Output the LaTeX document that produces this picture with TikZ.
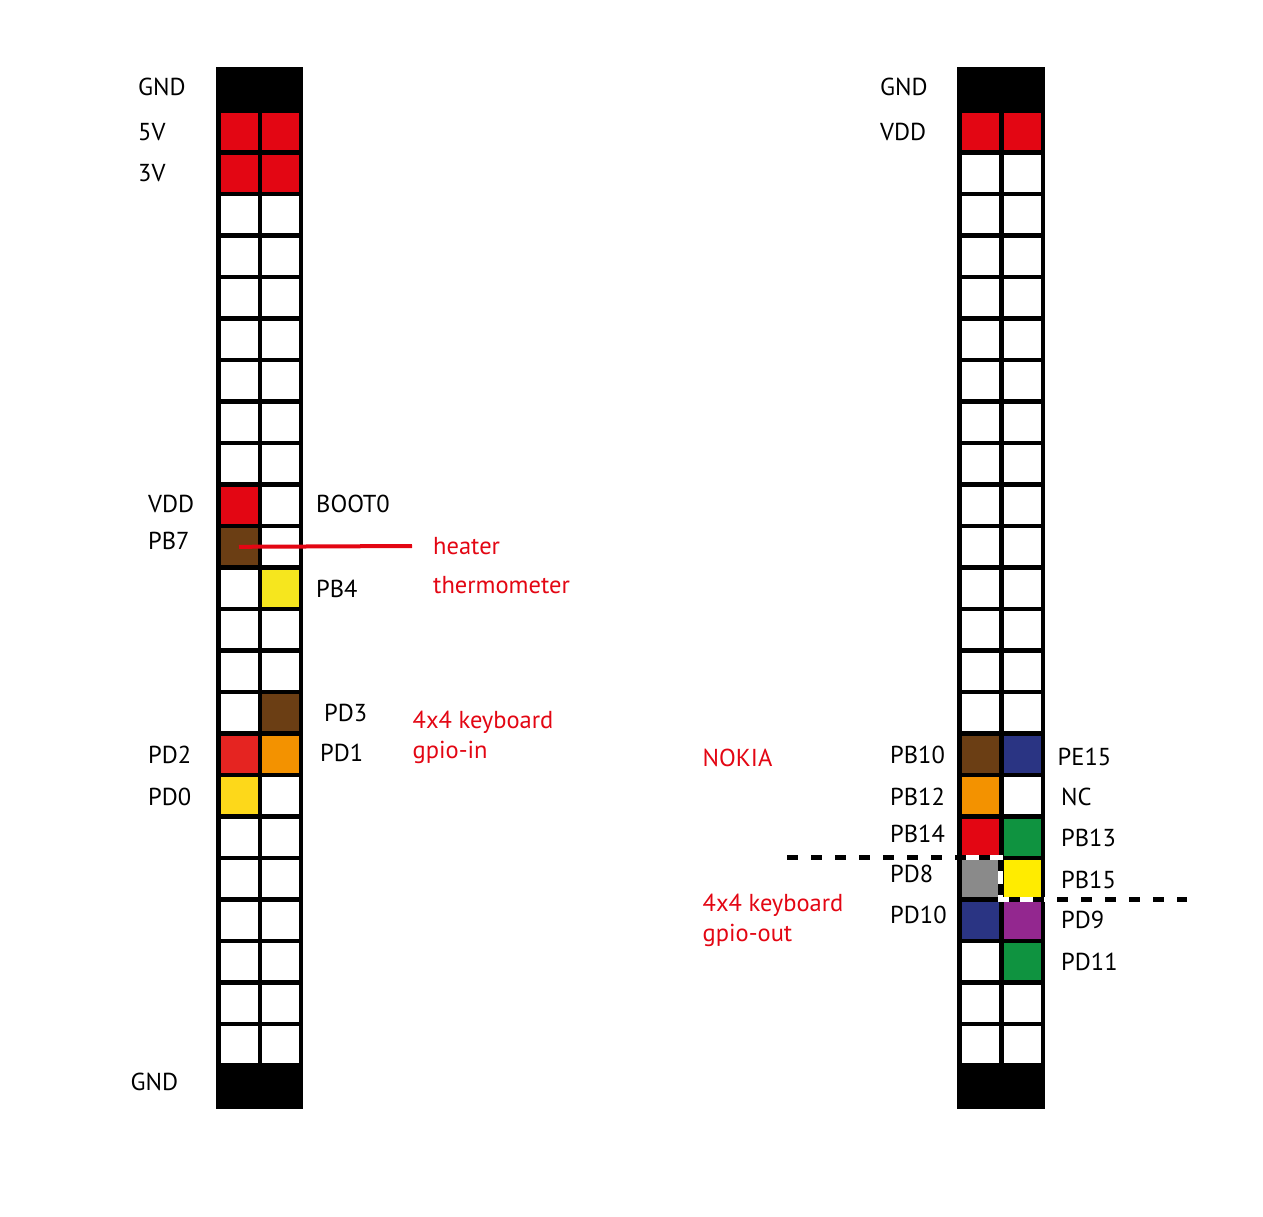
\documentclass[tikz,border=0pt]{standalone}
\usepackage{fontspec}
\setmainfont{PT Sans}
\usetikzlibrary{positioning}
\definecolor{pinred}{HTML}{E30613}
\definecolor{pinredb}{HTML}{E52421}
\definecolor{pinbrown}{HTML}{6B3E14}
\definecolor{pinyellow}{HTML}{F6E61E}
\definecolor{pingold}{HTML}{FDD81A}
\definecolor{pinorange}{HTML}{F39200}
\definecolor{pinblue}{HTML}{2A3483}
\definecolor{pingreen}{HTML}{0F9340}
\definecolor{pingray}{HTML}{8A8A8A}
\definecolor{pinlemon}{HTML}{FFEC00}
\definecolor{pinpurple}{HTML}{93278F}
\definecolor{notered}{HTML}{E30613}
\tikzset{pin/.style = {fill=white, minimum size=37pt, inner sep=0, outer sep=0}}
\tikzset{pinlabel/.style = {anchor=base west, inner sep=0, font=\fontsize{24.5}{28}\selectfont}}
\tikzset{notelabel/.style = {pinlabel, text=notered}}
\tikzset{heaterline/.style = {draw=notered, line width=4pt}}
\tikzset{bank/.style = {line width=4.5pt, dash pattern=on 11pt off 13pt}}

\begin{document}
\begin{tikzpicture}[x=1pt,y=-1pt]
  \useasboundingbox (0,0) rectangle (1263,1216);
  % headers
  \fill (215.5,67) rectangle (303,1109);
  \fill (957,67) rectangle (1044.5,1109);
  \foreach \r in {0,...,22}{
    \node[pin] (L-\r-0) at (239,{131.8+41.5*\r}) {};
    \node[pin] (L-\r-1) at (280.5,{131.8+41.5*\r}) {};
    \node[pin] (R-\r-0) at (980.7,{131.8+41.5*\r}) {};
    \node[pin] (R-\r-1) at (1022.2,{131.8+41.5*\r}) {};
  }
  % coloured pins
  \foreach \h/\r/\c/\col in {L/0/0/pinred, L/0/1/pinred, L/1/0/pinred, L/1/1/pinred,
      L/9/0/pinred, L/10/0/pinbrown, L/11/1/pinyellow, L/14/1/pinbrown,
      L/15/0/pinredb, L/15/1/pinorange, L/16/0/pingold,
      R/0/0/pinred, R/0/1/pinred, R/15/0/pinbrown, R/15/1/pinblue,
      R/16/0/pinorange, R/17/0/pinred, R/17/1/pingreen,
      R/18/0/pingray, R/18/1/pinlemon, R/19/0/pinblue, R/19/1/pinpurple,
      R/20/1/pingreen}
    \fill[\col] (\h-\r-\c.south west) rectangle (\h-\r-\c.north east);

  % left header labels
  \node[pinlabel] (gnd-lt) at (138,95) {GND};
  \node[pinlabel] (v5) at (138,140) {5V};
  \node[pinlabel] (v3) at (138,181) {3V};
  \node[pinlabel] (vdd-l) at (148,512) {VDD};
  \node[pinlabel] (pb7) at (148,549) {PB7};
  \node[pinlabel] (pd2) at (148,763) {PD2};
  \node[pinlabel] (pd0) at (148,805) {PD0};
  \node[pinlabel] (gnd-lb) at (130.5,1090) {GND};
  \node[pinlabel] (boot0) at (316,512) {BOOT0};
  \node[pinlabel] (pb4) at (316,597) {PB4};
  \node[pinlabel] (pd3) at (324,721.5) {PD3};
  \node[pinlabel] (pd1) at (320,761) {PD1};
  \node[notelabel] (heater) at (433,554) {heater};
  \node[notelabel] (thermo) at (433,593) {thermometer};
  \node[notelabel] (kbd-in) at (412.5,728) {4x4 keyboard};
  \node[notelabel] (gpio-in) at (412.5,758) {gpio-in};
  \coordinate (heater-end) at (412,546);
  \draw[heaterline] (L-10-0.center) -- (heater-end);

  % right header labels
  \node[pinlabel] (gnd-rt) at (880,95) {GND};
  \node[pinlabel] (vdd-r) at (880,140) {VDD};
  \node[notelabel] (nokia) at (702.5,766.5) {NOKIA};
  \node[pinlabel] (pb10) at (890,763) {PB10};
  \node[pinlabel] (pb12) at (890,805) {PB12};
  \node[pinlabel] (pb14) at (890,842.5) {PB14};
  \node[pinlabel] (pd8) at (890,882.5) {PD8};
  \node[pinlabel] (pd10) at (890,923) {PD10};
  \node[pinlabel] (pe15) at (1057.5,765) {PE15};
  \node[pinlabel] (nc) at (1061,805) {NC};
  \node[pinlabel] (pb13) at (1061,846.5) {PB13};
  \node[pinlabel] (pb15) at (1061,888) {PB15};
  \node[pinlabel] (pd9) at (1061,928) {PD9};
  \node[pinlabel] (pd11) at (1061,970) {PD11};
  \node[notelabel] (kbd-out) at (702.5,911.5) {4x4 keyboard};
  \node[notelabel] (gpio-out) at (702.5,941) {gpio-out};

  % split between NOKIA and keyboard pins
  \coordinate (split-a) at (787,857.5);
  \coordinate (split-b) at (1000.5,857.5);
  \coordinate (split-c) at (1000.5,899.5);
  \coordinate (split-d) at (1187,899.5);
  \draw[white, line width=4.5pt] (split-a) -- (split-b) -- (split-c) -- (split-d);
  \draw[bank] (split-a) -- (split-b) -- (split-c) -- (split-d);
\end{tikzpicture}
\end{document}
